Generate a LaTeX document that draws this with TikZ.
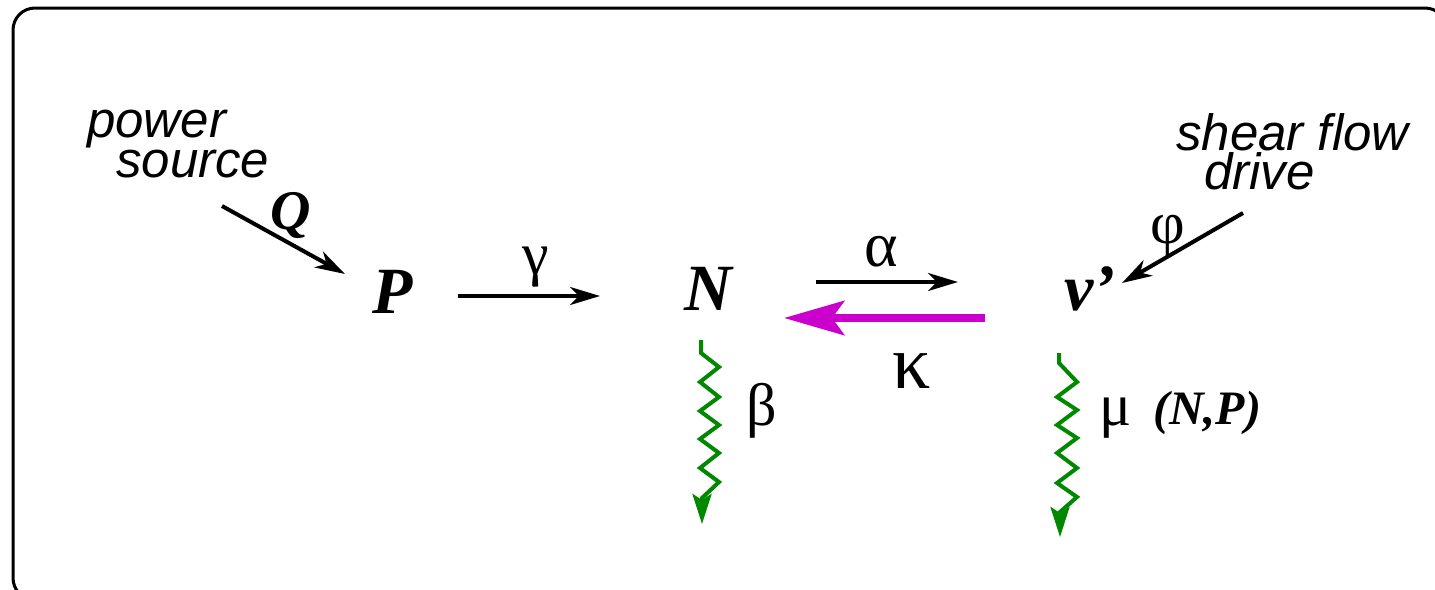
\documentclass[tikz,border=0pt]{standalone}
\usepackage{fontspec}
\setmainfont{Liberation Serif}
\newfontfamily\labelsans{Liberation Sans}
\usetikzlibrary{arrows.meta}
\definecolor{kmag}{RGB}{204,0,204}
\definecolor{dgreen}{RGB}{0,136,0}
\tikzset{
  sans/.style={font=\labelsans\itshape\fontsize{51}{40}\selectfont, inner sep=0pt, align=left},
  var/.style={font=\bfseries\itshape\fontsize{66}{66}\selectfont, inner sep=0pt, anchor=base},
  greek/.style={font=\fontsize{60}{60}\selectfont, inner sep=0pt, anchor=base},
  blackarrow/.style={line width=4pt, -{Stealth[length=30pt, width=18pt, inset=9pt]}},
  magarrow/.style={kmag, line width=8.5pt, -{Stealth[length=60pt, width=34pt, inset=12pt]}},
  zig/.style={dgreen, line width=4pt, line join=miter, -{Stealth[length=30pt, width=19pt, inset=6pt]}},
}
\begin{document}
\begin{tikzpicture}[x=1pt,y=-1pt]
\useasboundingbox (0,0) rectangle (1435,589);
\begin{scope}
\clip (0,0) rectangle (1435,589);
\draw[line width=3pt, rounded corners=22pt] (13,8) rectangle (1447,600);
\end{scope}

% texts
\node[sans, anchor=base west] (ps) at (87,177) {power\\\hspace{29pt}source};
\node[sans, anchor=base west, font=\labelsans\itshape\fontsize{51}{37}\selectfont] (sd) at (1176,189) {shear flow\\\hspace{28pt}drive};

% variables
\node[var] (P) at (393,313) {P};
\node[var] (N) at (708,310) {N};
\node[var] (V) at (1090,310) {v’};

% rate labels
\node[font=\bfseries\itshape\fontsize{56}{56}\selectfont, inner sep=0pt, anchor=base] (Q) at (291,229) {Q};
\node[greek] (g) at (536,274) {γ};
\node[greek, font=\fontsize{64}{64}\selectfont] (a) at (881,266) {α};
\node[greek, font=\fontsize{76}{76}\selectfont] (k) at (912,388) {κ};
\node[greek] (b) at (762,425) {β};
\node[greek] (m) at (1116,425) {μ};
\node[font=\bfseries\itshape\fontsize{48}{48}\selectfont, inner sep=0pt, anchor=base] (np) at (1207,424) {(N,P)};
\node[greek] (f) at (1168,243) {φ};

% arrow end points
\coordinate (q0) at (222,206);
\coordinate (q1) at (345,274);
\coordinate (g0) at (458,296);
\coordinate (g1) at (600,296);
\coordinate (a0) at (816,282);
\coordinate (a1) at (958,282);
\coordinate (k0) at (985,318);
\coordinate (k1) at (784,318);
\coordinate (f0) at (1243,213);
\coordinate (f1) at (1122,283);
\coordinate (b0) at (701,340);
\coordinate (b1) at (702,524);
\coordinate (m0) at (1059,353);
\coordinate (m1) at (1060,537);

\draw[blackarrow] (q0) -- (q1);
\draw[blackarrow] (g0) -- (g1);
\draw[blackarrow] (a0) -- (a1);
\draw[magarrow] (k0) -- (k1);
\draw[blackarrow] (f0) -- (f1);

\draw[zig] (b0) -- ++(0,13) -- (719,367) -- (700,382) -- (719,397) -- (700,411) -- (719,425) -- (700,439) -- (719,453) -- (700,468) -- (719,482) -- (702,498) -- (b1);
\draw[zig] (m0) -- ++(0,10) -- (1077,382) -- (1057,397) -- (1077,410) -- (1057,425) -- (1077,438) -- (1057,453) -- (1077,468) -- (1057,483) -- (1077,497) -- (1060,512) -- (m1);
\end{tikzpicture}
\end{document}
